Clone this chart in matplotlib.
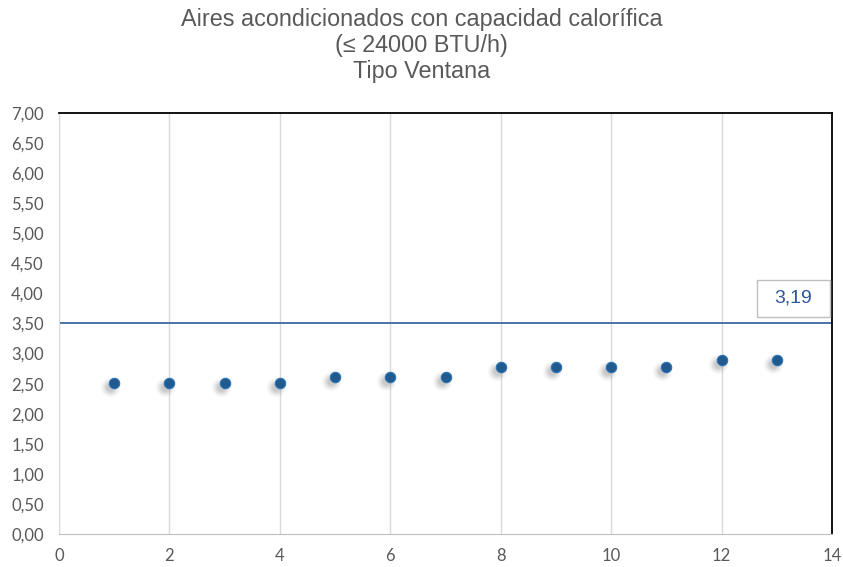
import numpy as np
import matplotlib
matplotlib.use("Agg")
import matplotlib.pyplot as plt
import matplotlib.transforms as mtransforms
from matplotlib.patches import Rectangle

# datos de la serie
muestras = [1, 2, 3, 4, 5, 6, 7, 8, 9, 10, 11, 12, 13]
valores = [2.51, 2.51, 2.51, 2.51, 2.61, 2.61, 2.61, 2.78, 2.78, 2.78, 2.78, 2.89, 2.89]
limite = 3.5
etiqueta_limite = "3,19"
titulo = "Aires acondicionados con capacidad calorífica\n(\u2264 24000 BTU/h)\nTipo Ventana"
yticks = np.arange(0, 7.01, 0.5)
xticks = np.arange(0, 15, 2)

gris = "#595959"
azul = "#215a8e"

fig = plt.figure(figsize=(8.43, 5.67), dpi=100)
ax = fig.add_axes([0.070, 0.058, 0.917, 0.743])

ax.set_xlim(0, 14)
ax.set_ylim(0, 7)

# sombra difusa bajo cada punto
sh = mtransforms.offset_copy(ax.transData, fig=fig, x=-4, y=-4, units="dots")
for r, a in [(14, 0.05), (12, 0.07), (10, 0.09), (8, 0.12), (6, 0.15)]:
    ax.plot(muestras, valores, "o", ms=r, color="#808080", alpha=a,
            mec="none", transform=sh, zorder=3)

ax.plot(muestras, valores, "o", ms=7.5, color=azul, mec="#2e75b6",
        mew=0.8, zorder=4)

ax.axhline(limite, color="#4a72a8", lw=1.4, zorder=2)

# recuadro con la etiqueta del límite
ax.add_patch(Rectangle((12.64, 3.61), 1.32, 0.61, fc="white", ec="#bfbfbf",
                       lw=1, zorder=5, clip_on=False))
ax.text(13.30, 3.915, etiqueta_limite, ha="center", va="center",
        fontsize=14, color="#2f5597", family="Liberation Sans", zorder=6)

ax.set_xticks(xticks)
ax.set_yticks(yticks)
ax.set_xticklabels([str(v) for v in xticks])
ax.set_yticklabels([f"{v:.2f}".replace(".", ",") for v in yticks])
ax.tick_params(axis="y", length=0, pad=11, labelsize=12, labelcolor=gris)
ax.tick_params(axis="x", length=0, pad=10, labelsize=12, labelcolor=gris)
for lab in ax.get_xticklabels() + ax.get_yticklabels():
    lab.set_family("Lato")

ax.grid(axis="x", color="#d9d9d9", lw=1)
ax.set_axisbelow(True)

ax.spines["left"].set_color("#d9d9d9")
ax.spines["bottom"].set_color("#bfbfbf")
ax.spines["top"].set_color("black")
ax.spines["right"].set_color("black")
ax.spines["top"].set_linewidth(1.3)
ax.spines["right"].set_linewidth(1.3)

fig.text(0.5, 0.986, titulo, ha="center", va="top", fontsize=16.8,
         color=gris, family="Liberation Sans", linespacing=1.17)

fig.savefig("out.png", dpi=100)
